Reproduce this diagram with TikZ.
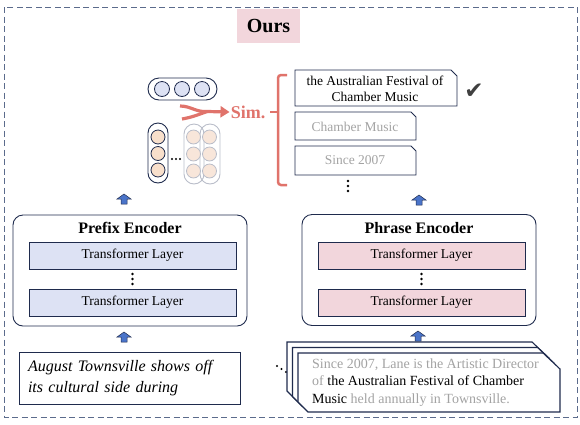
\documentclass[tikz,border=0pt]{standalone}
\usepackage{fontspec}
\setmainfont{Liberation Serif}
\newfontfamily\symfont{DejaVu Sans}
\usetikzlibrary{calc,positioning,arrows.meta}

\definecolor{navy}{HTML}{1F2B4D}
\definecolor{framegray}{HTML}{5B6B8C}
\definecolor{lavender}{HTML}{DDE2F4}
\definecolor{rosepink}{HTML}{F2D6DC}
\definecolor{peach}{HTML}{F8DFCB}
\definecolor{palepeach}{HTML}{F8E6DA}
\definecolor{palegray}{HTML}{B9BDC9}
\definecolor{simred}{HTML}{E0736B}
\definecolor{fadegray}{HTML}{A3A3A3}
\definecolor{arrowblue}{HTML}{4A74C9}

\tikzset{
  encoder/.style={draw=navy, line width=0.9pt, rounded corners=10pt, minimum width=234pt, minimum height=111pt},
  enctitle/.style={font=\fontsize{16}{18}\selectfont\bfseries},
  layer/.style={draw=navy, line width=0.8pt, minimum width=207pt, minimum height=27pt, font=\fontsize{13.5}{16}\selectfont},
  pill/.style={draw=navy, line width=0.9pt, inner sep=0pt},
  fadepill/.style={draw=palegray, line width=0.9pt, inner sep=0pt},
  doc/.style={draw=navy, line width=1.1pt, fill=white},
  cand/.style={draw=navy, line width=0.9pt},
  candtext/.style={font=\fontsize{13.5}{16}\selectfont, align=center, inner sep=0pt},
  vdots/.pic={\foreach \d in {-5,0,5} \fill[black] (0,\d) circle (1.3pt);},
  uparrow/.pic={\filldraw[fill=arrowblue, draw=navy, line width=0.5pt]
    (-3,5) -- (-3,0) -- (-7,0) -- (0,-5) -- (7,0) -- (3,0) -- (3,5) -- cycle;}
}

\begin{document}
\begin{tikzpicture}[x=1pt, y=-1pt, >=stealth]
    \useasboundingbox (0,0) rectangle (580,424);

    % Outer frame and title
    \draw[framegray, line width=1pt, dash pattern=on 6pt off 3.5pt] (4,7) rectangle (577,417);
    \node[fill=rosepink, minimum width=63pt, minimum height=34pt, font=\fontsize{20}{22}\selectfont\bfseries] (ours) at (268.5,26) {Ours};

    % Prefix encoder
    \node[encoder] (prefix) at (130,270.5) {};
    \node[enctitle] (ptitle) at (130,228) {Prefix Encoder};
    \node[layer, fill=lavender] (pl1) at (132.5,255.5) {Transformer Layer};
    \node[layer, fill=lavender] (pl2) at (132.5,302.5) {Transformer Layer};
    \pic at ($(pl1.south)!0.5!(pl2.north)$) {vdots};

    % Phrase encoder
    \node[encoder] (phrase) at (419,270) {};
    \node[enctitle] (rtitle) at (419,228) {Phrase Encoder};
    \node[layer, fill=rosepink] (rl1) at (421.5,255.5) {Transformer Layer};
    \node[layer, fill=rosepink] (rl2) at (421.5,302.5) {Transformer Layer};
    \pic at ($(rl1.south)!0.5!(rl2.north)$) {vdots};

    % Input prefix
    \node[draw=navy, line width=0.8pt, minimum width=221pt, minimum height=52pt, text width=203pt, align=left,
          font=\fontsize{16}{21}\selectfont\itshape] (input) at (129.5,378)
          {August Townsville shows off\\its cultural side during};
    \foreach \i in {0,1,2} \fill[black] ({277+4.5*\i},{366+3*\i}) circle (1.2pt);

    % Document stack
    \foreach \o in {11,5.5,0}
      \filldraw[doc] ({298-\o},{353-\o}) -- ({543-\o},{353-\o}) -- ({560-\o},{369-\o})
        -- ({560-\o},{412-\o}) -- ({308-\o},{412-\o}) -- ({298-\o},{402-\o}) -- cycle;
    \node[anchor=west, align=left, inner sep=0pt, font=\fontsize{14}{17.5}\selectfont] (docs) at (312,382.5)
      {{\color{fadegray}Since 2007, Lane is the Artistic Director}\\
       {\color{fadegray}of} the Australian Festival of Chamber\\
       Music {\color{fadegray}held annually in Townsville.}};

    % Block arrows
    \pic at (124,199) {uparrow};
    \pic at (419,200) {uparrow};
    \pic at (124,337) {uparrow};
    \pic at (418,336) {uparrow};

    % Query vector
    \node[pill, minimum width=69pt, minimum height=22pt, rounded corners=11pt] (qvec) at (182.5,89) {};
    \foreach \x in {162,182,202} \draw[navy, line width=0.8pt, fill=lavender] (\x,89) circle (7.5pt);

    % Phrase vectors
    \node[fadepill, minimum width=20pt, minimum height=60pt, rounded corners=10pt] (fvec2) at (210,154) {};
    \node[fadepill, minimum width=20pt, minimum height=60pt, rounded corners=10pt] (fvec1) at (194,154) {};
    \foreach \x in {193.5,209.5} \foreach \y in {137,154,171}
      \draw[palegray, line width=0.8pt, fill=palepeach] (\x,\y) circle (7pt);
    \node[pill, minimum width=20pt, minimum height=60pt, rounded corners=10pt] (pvec) at (158,153) {};
    \foreach \y in {137,153.5,170} \draw[navy, line width=0.8pt, fill=peach] (158,\y) circle (7pt);
    \foreach \x in {172,176,180} \fill[black] (\x,159) circle (1.2pt);

    % Similarity
    \node[text=simred, font=\fontsize{18}{20}\selectfont\bfseries, inner sep=1pt] (sim) at (248,112) {Sim.};
    \coordinate (merge) at (207,111.5);
    \draw[simred, line width=3.2pt] (180,106) to[out=0, in=185] (merge);
    \draw[simred, line width=3.2pt] (182,119) to[out=10, in=200] (merge);
    \draw[simred, line width=3.2pt, -{Triangle[length=9pt, width=11pt]}] (merge) -- (sim.west);
    \draw[simred, line width=2.5pt, rounded corners=3pt] (287,75) -- (278,75) -- (278,185) -- (287,185);
    \draw[simred, line width=2.5pt] (278,112) -- (270,112);

    % Candidate phrases
    \draw[cand] (295,70) -- (451,70) -- (457,76) -- (457,106) -- (295,106) -- cycle;
    \draw[cand] (295,112) -- (411,112) -- (416,117) -- (416,140) -- (295,140) -- cycle;
    \draw[cand] (295,146) -- (411,146) -- (416,151) -- (416,175) -- (295,175) -- cycle;
    \node[candtext] (cand1) at (375,89) {the Australian Festival of\\Chamber Music};
    \node[candtext, text=fadegray] (cand2) at (355,126.5) {Chamber Music};
    \node[candtext, text=fadegray] (cand3) at (355,160.5) {Since 2007};
    \node[font=\symfont\fontsize{23}{23}\selectfont, text=black!75, inner sep=0pt] (check) at (474,91) {✔};
    \pic at (348,186) {vdots};
\end{tikzpicture}
\end{document}
